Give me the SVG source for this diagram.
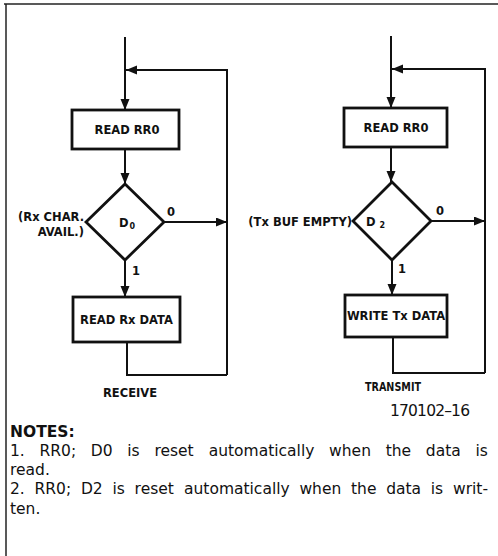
<svg xmlns="http://www.w3.org/2000/svg" width="498" height="556" viewBox="0 0 498 556">
<style>
.ln{fill:none;stroke:#111;stroke-width:2}
.bx{fill:#fff;stroke:#111;stroke-width:2.8}
.fr{fill:none;stroke:#222;stroke-width:1.5}
.lb{font-family:"DejaVu Sans",sans-serif;font-weight:bold;font-size:11.5px;fill:#111}
.nt{font-family:"DejaVu Sans",sans-serif;font-size:15.5px;fill:#111}
</style>
<defs>
<marker id="ah" markerUnits="userSpaceOnUse" markerWidth="12" markerHeight="10" refX="11" refY="4.5" orient="auto">
<path d="M0,0 L11,4.5 L0,9 z" fill="#111"/>
</marker>
</defs>
<g id="frame">
<line class="fr" x1="4" y1="4" x2="498" y2="4"/>
<line class="fr" x1="6" y1="4" x2="6" y2="556"/>
</g>
<g id="connectors">
<path class="ln" d="M125,37 V110" marker-end="url(#ah)"/>
<path class="ln" d="M227,375 V70 H126" marker-end="url(#ah)"/>
<path class="ln" d="M125,149 V184" marker-end="url(#ah)"/>
<path class="ln" d="M164,222 H227" marker-end="url(#ah)"/>
<path class="ln" d="M125,260 V297" marker-end="url(#ah)"/>
<path class="ln" d="M127,342 V375 H227"/>
<path class="ln" d="M391,36 V108" marker-end="url(#ah)"/>
<path class="ln" d="M485,373 V69 H392" marker-end="url(#ah)"/>
<path class="ln" d="M391,147 V182" marker-end="url(#ah)"/>
<path class="ln" d="M431,221 H485" marker-end="url(#ah)"/>
<path class="ln" d="M392,260 V295" marker-end="url(#ah)"/>
<path class="ln" d="M393,337 V373 H485"/>
</g>
<g id="rx-read-rr0">
<rect class="bx" x="72" y="110" width="107" height="39"/>
<text class="lb" x="127" y="134" text-anchor="middle">READ RR0</text>
</g>
<g id="rx-d0">
<polygon class="bx" points="125,184 164,222 125,260 86,222"/>
<text class="lb" x="119" y="227" font-size="12.5">D<tspan font-size="8" dx="1" dy="2">0</tspan></text>
<text class="lb" x="84" y="221" text-anchor="end">(Rx CHAR.</text>
<text class="lb" x="84" y="236" text-anchor="end">AVAIL.)</text>
<text class="lb" x="171" y="216" text-anchor="middle">0</text>
<text class="lb" x="136" y="275" text-anchor="middle">1</text>
</g>
<g id="rx-read-data">
<rect class="bx" x="73" y="297" width="107" height="45"/>
<text class="lb" x="126.5" y="324" text-anchor="middle">READ Rx DATA</text>
</g>
<text class="lb" x="130" y="397" text-anchor="middle" font-size="10.5" textLength="54" lengthAdjust="spacingAndGlyphs">RECEIVE</text>
<g id="tx-read-rr0">
<rect class="bx" x="344" y="108" width="103" height="39"/>
<text class="lb" x="396" y="132" text-anchor="middle">READ RR0</text>
</g>
<g id="tx-d2">
<polygon class="bx" points="392,182 431,221 392,260 353,221"/>
<text class="lb" x="366" y="226" font-size="12.5">D<tspan font-size="8" dx="4" dy="2">2</tspan></text>
<text class="lb" x="352" y="226" text-anchor="end" font-size="10.2">(Tx BUF EMPTY)</text>
<text class="lb" x="440" y="215" text-anchor="middle">0</text>
<text class="lb" x="402" y="273" text-anchor="middle">1</text>
</g>
<g id="tx-write-data">
<rect class="bx" x="345" y="295" width="102" height="42"/>
<text class="lb" x="396" y="320" text-anchor="middle" font-size="11">WRITE Tx DATA</text>
</g>
<text class="lb" x="393" y="391" text-anchor="middle" font-size="10.5" textLength="56" lengthAdjust="spacingAndGlyphs">TRANSMIT</text>
<text class="nt" x="430" y="416" text-anchor="middle" font-size="14" textLength="80">170102–16</text>
<g id="notes">
<text class="nt" x="10" y="437" font-weight="bold" font-size="15">NOTES:</text>
<text class="nt" y="456"><tspan x="10">1.</tspan><tspan x="39.5">RR0;</tspan><tspan x="90.8">D0</tspan><tspan x="127.3">is</tspan><tspan x="154.4">reset</tspan><tspan x="208.7">automatically</tspan><tspan x="329.1">when</tspan><tspan x="385.7">the</tspan><tspan x="425.8">data</tspan><tspan x="475.4">is</tspan></text>
<text class="nt" x="10" y="475">read.</text>
<text class="nt" y="494"><tspan x="10">2.</tspan><tspan x="34.5">RR0;</tspan><tspan x="80.9">D2</tspan><tspan x="112.4">is</tspan><tspan x="134.6">reset</tspan><tspan x="184">automatically</tspan><tspan x="299.4">when</tspan><tspan x="351">the</tspan><tspan x="386.2">data</tspan><tspan x="430.8">is</tspan><tspan x="453">writ-</tspan></text>
<text class="nt" x="10" y="514">ten.</text>
</g>
</svg>
